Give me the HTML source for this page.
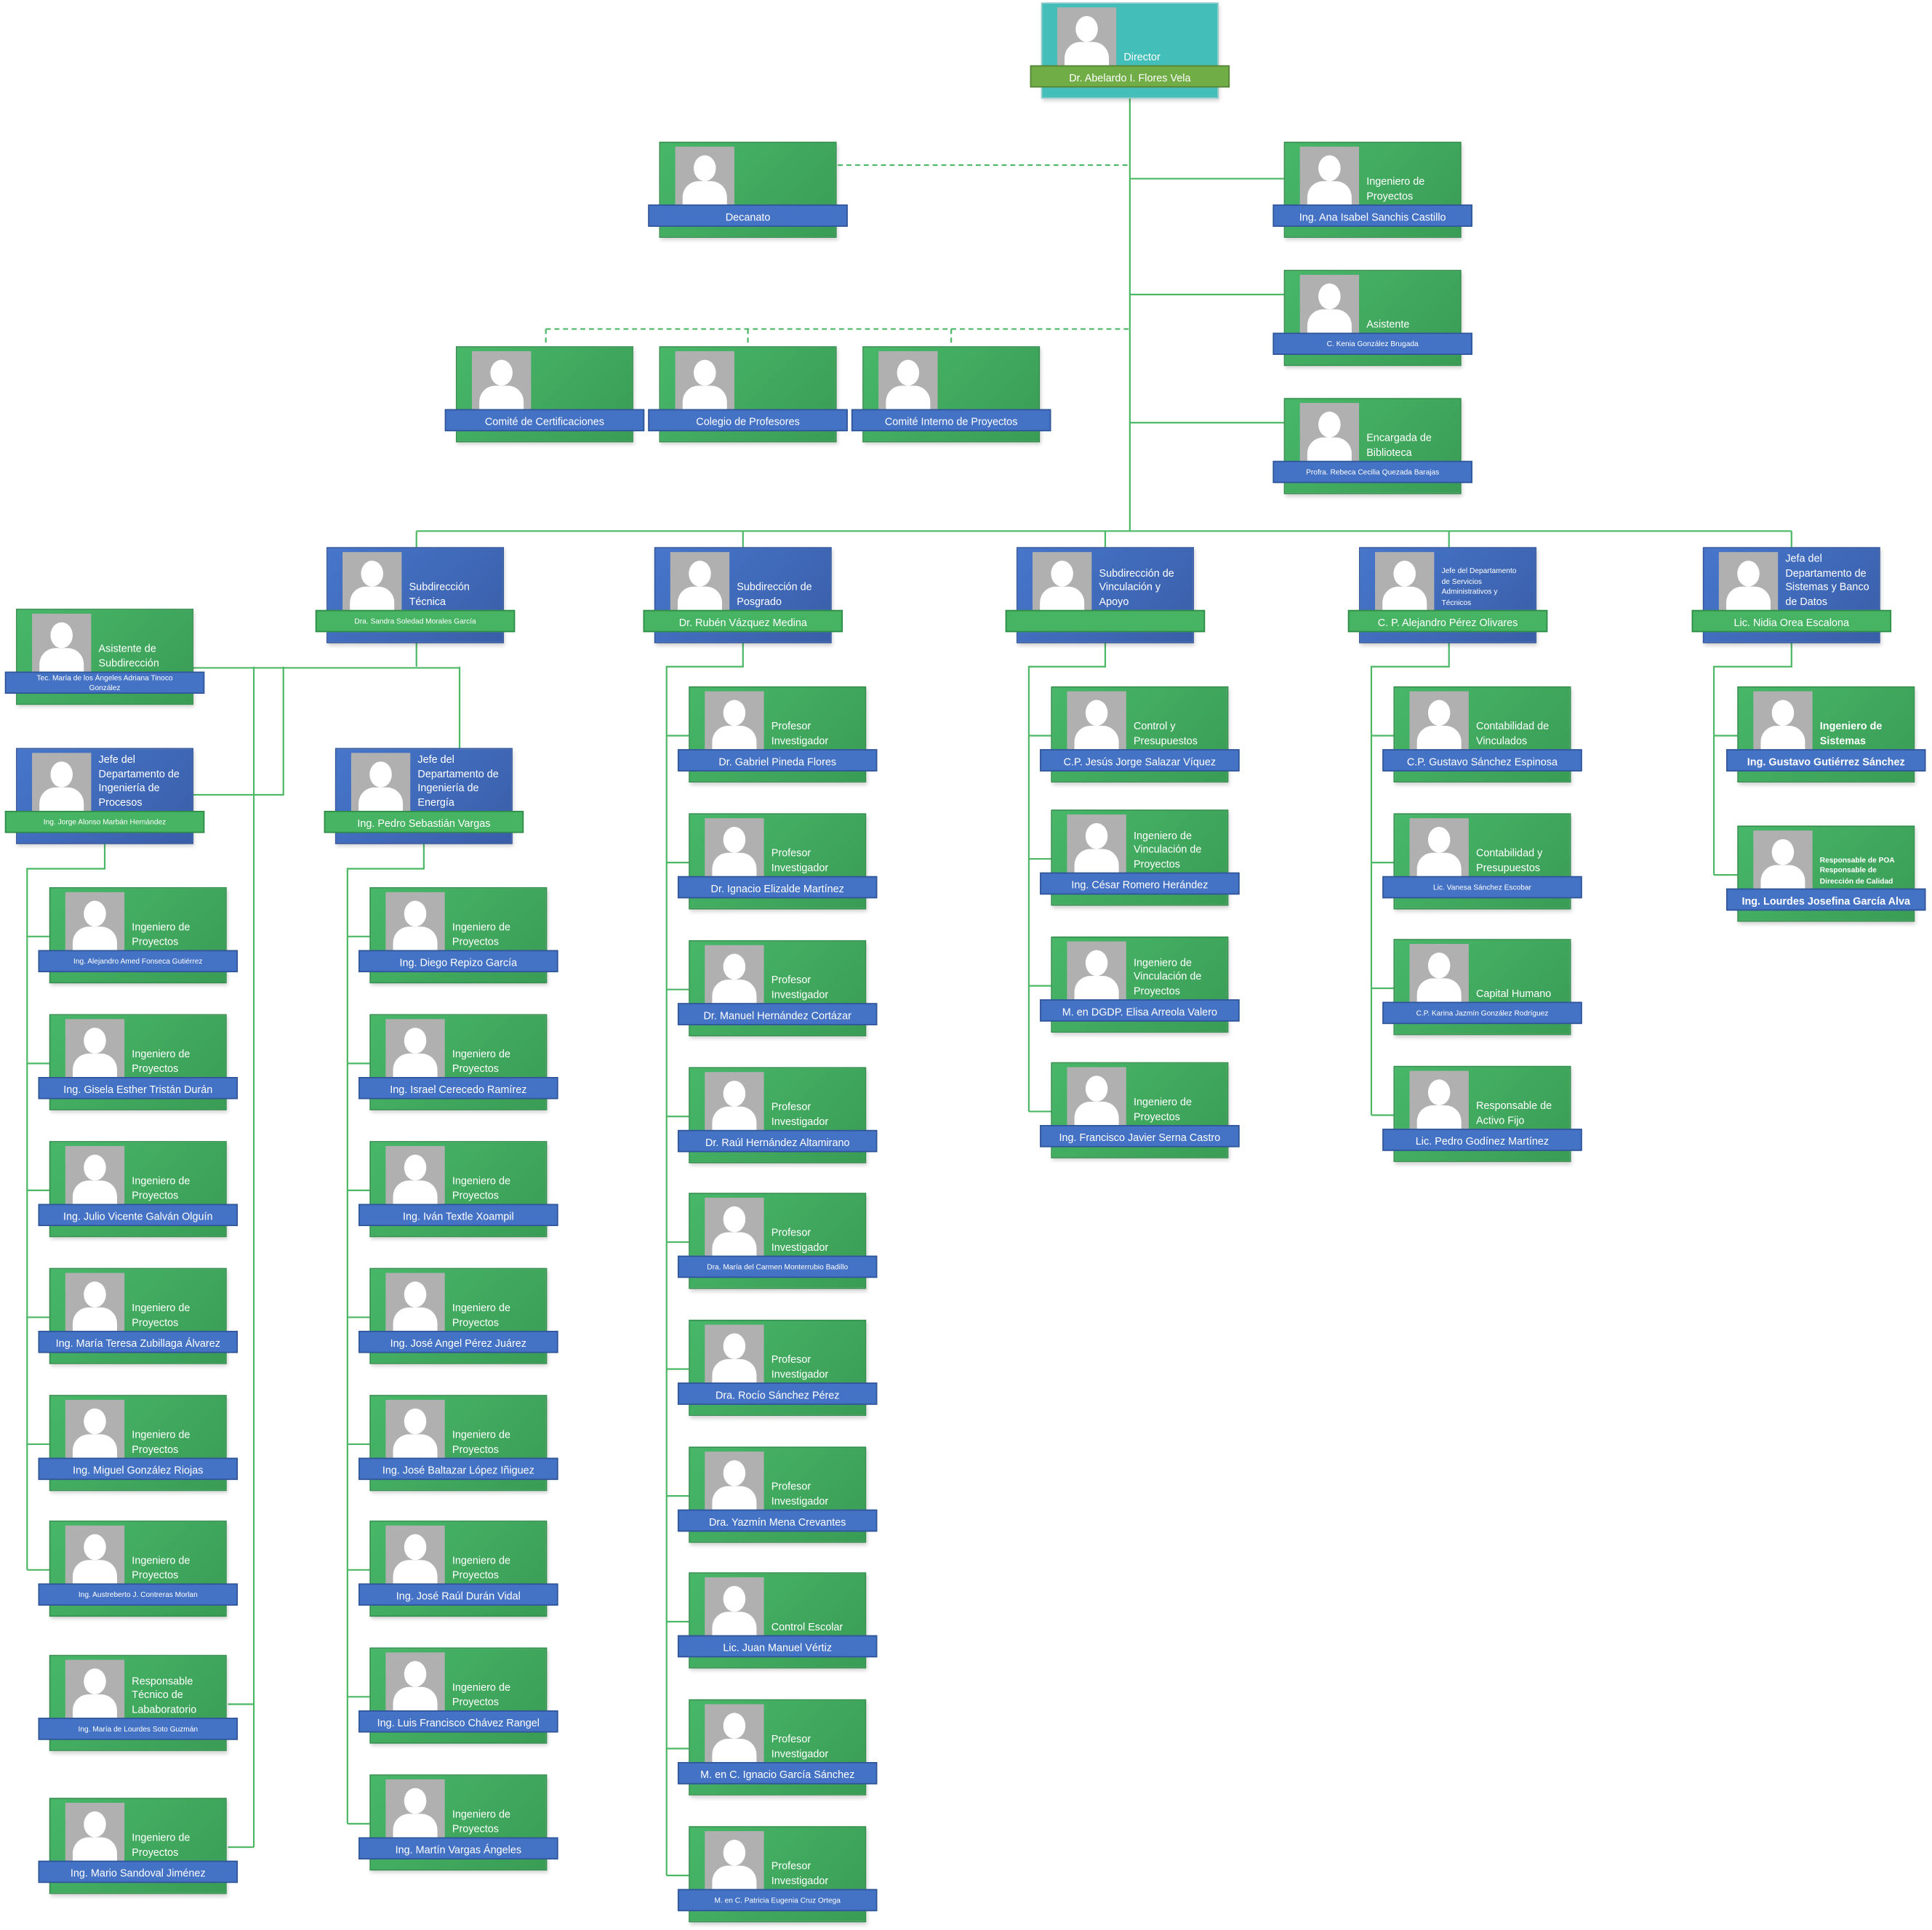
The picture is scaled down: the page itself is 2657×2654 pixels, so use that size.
<!DOCTYPE html>
<html><head><meta charset="utf-8"><style>
html,body{margin:0;padding:0;background:#fff;}
body{width:2657px;height:2654px;overflow:hidden;position:relative;font-family:"Liberation Sans",sans-serif;}
#w{position:absolute;left:0;top:0;width:1568px;height:1566px;transform:scale(1.6945);transform-origin:0 0;}
svg{position:absolute;left:0;top:0;}
.c{position:absolute;width:144px;height:78px;box-sizing:border-box;box-shadow:1px 2px 3px rgba(0,0,0,.18);}
.g{background:linear-gradient(135deg,#47b768,#3a9c55);border:1px solid #338f4c;}
.b{background:linear-gradient(135deg,#4676cb,#3a5ea8);border:1px solid #34589e;}
.d{background:#43beb8;border:1px solid #9cc;}
.c i{position:absolute;left:12px;top:3px;width:48px;height:48px;background:#b0b0b0;overflow:hidden;}
.c i:before{content:"";position:absolute;left:15px;top:7px;width:18px;height:21px;border-radius:50%;background:#fff;}
.c i:after{content:"";position:absolute;left:6px;top:28px;width:36px;height:26px;border-radius:13px 13px 0 0;background:#fff;}
.t{position:absolute;left:66px;bottom:27px;width:76px;color:#fff;font-size:8.5px;line-height:11.5px;}
.t.s{font-size:6px;line-height:8.5px;}
.t.bd{font-weight:bold;}
.bn{position:absolute;left:-10px;top:50px;width:162px;height:18px;line-height:18px;text-align:center;color:#fff;font-size:8.5px;font-weight:normal;box-sizing:border-box;white-space:nowrap;overflow:hidden;}
.bn.sm{font-size:6px;}
.bn.two{font-size:6px;line-height:8px;white-space:normal;padding-top:1px;}
.bn.bd{font-weight:bold;}
.bb{background:#4472c4;border:1px solid #2f5597;}
.bg{background:#47b464;border:1px solid #2e8b47;}
.bv{background:#70ad47;border:1px solid #548235;}
</style></head><body><div id="w">
<svg width="1568" height="1566" fill="none" stroke="#4cb866" stroke-width="1.3">
<path d="M917 78V431M338 431H1454M338 431V444M603 431V444M897 431V444M1176 431V444M1454 431V444"/>
<path d="M917 145H1042M917 239H1042M917 343H1042"/>
<path d="M680 134H917M443 267H917M443 267V281M607 267V281M772 267V281" stroke-dasharray="4 3"/>
<path d="M338 522V541M157 542H373M373 541V607M206 541V1499M206 1383H185M206 1499H185M230 541V645H157"/>
<path d="M85 685V705H22V1274M22 760H40M22 863H40M22 966H40M22 1069H40M22 1172H40M22 1274H40"/>
<path d="M344 685V705H282V1480M282 760H300M282 863H300M282 966H300M282 1069H300M282 1172H300M282 1274H300M282 1377H300M282 1480H300"/>
<path d="M603 522V541H541V1522M541 597H559M541 700H559M541 803H559M541 906H559M541 1008H559M541 1111H559M541 1214H559M541 1316H559M541 1419H559M541 1522H559"/>
<path d="M897 522V541H835V902M835 597H853M835 697H853M835 800H853M835 902H853"/>
<path d="M1176 522V541H1113V905M1113 597H1131M1113 700H1131M1113 802H1131M1113 905H1131"/>
<path d="M1454 522V541H1391V710M1391 597H1410M1391 710H1410"/>
</svg>

<div class="c d" style="left:845px;top:2px"><i></i><span class="t">Director</span><b class="bn bv">Dr. Abelardo I. Flores Vela</b></div>
<div class="c g" style="left:535px;top:115px"><i></i><b class="bn bb">Decanato</b></div>
<div class="c g" style="left:1042px;top:115px"><i></i><span class="t">Ingeniero de<br>Proyectos</span><b class="bn bb">Ing. Ana Isabel Sanchis Castillo</b></div>
<div class="c g" style="left:1042px;top:219px"><i></i><span class="t">Asistente</span><b class="bn bb sm">C. Kenia González Brugada</b></div>
<div class="c g" style="left:1042px;top:323px"><i></i><span class="t">Encargada de<br>Biblioteca</span><b class="bn bb sm">Profra. Rebeca Cecilia Quezada Barajas</b></div>
<div class="c g" style="left:370px;top:281px"><i></i><b class="bn bb">Comité de Certificaciones</b></div>
<div class="c g" style="left:535px;top:281px"><i></i><b class="bn bb">Colegio de Profesores</b></div>
<div class="c g" style="left:700px;top:281px"><i></i><b class="bn bb">Comité Interno de Proyectos</b></div>

<div class="c b" style="left:265px;top:444px"><i></i><span class="t">Subdirección<br>Técnica</span><b class="bn bg sm">Dra. Sandra Soledad Morales García</b></div>
<div class="c b" style="left:531px;top:444px"><i></i><span class="t">Subdirección de<br>Posgrado</span><b class="bn bg">Dr. Rubén Vázquez Medina</b></div>
<div class="c b" style="left:825px;top:444px"><i></i><span class="t">Subdirección de<br>Vinculación y<br>Apoyo</span><b class="bn bg"></b></div>
<div class="c b" style="left:1103px;top:444px"><i></i><span class="t s">Jefe del Departamento<br>de Servicios<br>Administrativos y<br>Técnicos</span><b class="bn bg">C. P. Alejandro Pérez Olivares</b></div>
<div class="c b" style="left:1382px;top:444px"><i></i><span class="t">Jefa del<br>Departamento de<br>Sistemas y Banco<br>de Datos</span><b class="bn bg">Lic. Nidia Orea Escalona</b></div>

<div class="c g" style="left:13px;top:494px"><i></i><span class="t">Asistente de<br>Subdirección</span><b class="bn bb two">Tec. María de los Ángeles Adriana Tinoco<br>González</b></div>
<div class="c b" style="left:13px;top:607px"><i></i><span class="t">Jefe del<br>Departamento de<br>Ingeniería de<br>Procesos</span><b class="bn bg sm">Ing. Jorge Alonso Marbán Hernández</b></div>
<div class="c b" style="left:272px;top:607px"><i></i><span class="t">Jefe del<br>Departamento de<br>Ingeniería de<br>Energía</span><b class="bn bg">Ing. Pedro Sebastián Vargas</b></div>

<div class="c g" style="left:40px;top:720px"><i></i><span class="t">Ingeniero de<br>Proyectos</span><b class="bn bb sm">Ing. Alejandro Amed Fonseca Gutiérrez</b></div>
<div class="c g" style="left:40px;top:823px"><i></i><span class="t">Ingeniero de<br>Proyectos</span><b class="bn bb">Ing. Gisela Esther Tristán Durán</b></div>
<div class="c g" style="left:40px;top:926px"><i></i><span class="t">Ingeniero de<br>Proyectos</span><b class="bn bb">Ing. Julio Vicente Galván Olguín</b></div>
<div class="c g" style="left:40px;top:1029px"><i></i><span class="t">Ingeniero de<br>Proyectos</span><b class="bn bb">Ing. María Teresa Zubillaga Álvarez</b></div>
<div class="c g" style="left:40px;top:1132px"><i></i><span class="t">Ingeniero de<br>Proyectos</span><b class="bn bb">Ing. Miguel González Riojas</b></div>
<div class="c g" style="left:40px;top:1234px"><i></i><span class="t">Ingeniero de<br>Proyectos</span><b class="bn bb sm">Ing. Austreberto J. Contreras Morlan</b></div>
<div class="c g" style="left:40px;top:1343px"><i></i><span class="t">Responsable<br>Técnico de<br>Lababoratorio</span><b class="bn bb sm">Ing. María de Lourdes Soto Guzmán</b></div>
<div class="c g" style="left:40px;top:1459px"><i></i><span class="t">Ingeniero de<br>Proyectos</span><b class="bn bb">Ing. Mario Sandoval Jiménez</b></div>

<div class="c g" style="left:300px;top:720px"><i></i><span class="t">Ingeniero de<br>Proyectos</span><b class="bn bb">Ing. Diego Repizo García</b></div>
<div class="c g" style="left:300px;top:823px"><i></i><span class="t">Ingeniero de<br>Proyectos</span><b class="bn bb">Ing. Israel Cerecedo Ramírez</b></div>
<div class="c g" style="left:300px;top:926px"><i></i><span class="t">Ingeniero de<br>Proyectos</span><b class="bn bb">Ing. Iván Textle Xoampil</b></div>
<div class="c g" style="left:300px;top:1029px"><i></i><span class="t">Ingeniero de<br>Proyectos</span><b class="bn bb">Ing. José Angel Pérez Juárez</b></div>
<div class="c g" style="left:300px;top:1132px"><i></i><span class="t">Ingeniero de<br>Proyectos</span><b class="bn bb">Ing. José Baltazar López Iñiguez</b></div>
<div class="c g" style="left:300px;top:1234px"><i></i><span class="t">Ingeniero de<br>Proyectos</span><b class="bn bb">Ing. José Raúl Durán Vidal</b></div>
<div class="c g" style="left:300px;top:1337px"><i></i><span class="t">Ingeniero de<br>Proyectos</span><b class="bn bb">Ing. Luis Francisco Chávez Rangel</b></div>
<div class="c g" style="left:300px;top:1440px"><i></i><span class="t">Ingeniero de<br>Proyectos</span><b class="bn bb">Ing. Martín Vargas Ángeles</b></div>

<div class="c g" style="left:559px;top:557px"><i></i><span class="t">Profesor<br>Investigador</span><b class="bn bb">Dr. Gabriel Pineda Flores</b></div>
<div class="c g" style="left:559px;top:660px"><i></i><span class="t">Profesor<br>Investigador</span><b class="bn bb">Dr. Ignacio Elizalde Martínez</b></div>
<div class="c g" style="left:559px;top:763px"><i></i><span class="t">Profesor<br>Investigador</span><b class="bn bb">Dr. Manuel Hernández Cortázar</b></div>
<div class="c g" style="left:559px;top:866px"><i></i><span class="t">Profesor<br>Investigador</span><b class="bn bb">Dr. Raúl Hernández Altamirano</b></div>
<div class="c g" style="left:559px;top:968px"><i></i><span class="t">Profesor<br>Investigador</span><b class="bn bb sm">Dra. María del Carmen Monterrubio Badillo</b></div>
<div class="c g" style="left:559px;top:1071px"><i></i><span class="t">Profesor<br>Investigador</span><b class="bn bb">Dra. Rocío Sánchez Pérez</b></div>
<div class="c g" style="left:559px;top:1174px"><i></i><span class="t">Profesor<br>Investigador</span><b class="bn bb">Dra. Yazmín Mena Crevantes</b></div>
<div class="c g" style="left:559px;top:1276px"><i></i><span class="t">Control Escolar</span><b class="bn bb">Lic. Juan Manuel Vértiz</b></div>
<div class="c g" style="left:559px;top:1379px"><i></i><span class="t">Profesor<br>Investigador</span><b class="bn bb">M. en C. Ignacio García Sánchez</b></div>
<div class="c g" style="left:559px;top:1482px"><i></i><span class="t">Profesor<br>Investigador</span><b class="bn bb sm">M. en C. Patricia Eugenia Cruz Ortega</b></div>

<div class="c g" style="left:853px;top:557px"><i></i><span class="t">Control y<br>Presupuestos</span><b class="bn bb">C.P. Jesús Jorge Salazar Víquez</b></div>
<div class="c g" style="left:853px;top:657px"><i></i><span class="t">Ingeniero de<br>Vinculación de<br>Proyectos</span><b class="bn bb">Ing. César Romero Herández</b></div>
<div class="c g" style="left:853px;top:760px"><i></i><span class="t">Ingeniero de<br>Vinculación de<br>Proyectos</span><b class="bn bb">M. en DGDP. Elisa Arreola Valero</b></div>
<div class="c g" style="left:853px;top:862px"><i></i><span class="t">Ingeniero de<br>Proyectos</span><b class="bn bb">Ing. Francisco Javier Serna Castro</b></div>

<div class="c g" style="left:1131px;top:557px"><i></i><span class="t">Contabilidad de<br>Vinculados</span><b class="bn bb">C.P. Gustavo Sánchez Espinosa</b></div>
<div class="c g" style="left:1131px;top:660px"><i></i><span class="t">Contabilidad y<br>Presupuestos</span><b class="bn bb sm">Lic. Vanesa Sánchez Escobar</b></div>
<div class="c g" style="left:1131px;top:762px"><i></i><span class="t">Capital Humano</span><b class="bn bb sm">C.P. Karina Jazmín González Rodríguez</b></div>
<div class="c g" style="left:1131px;top:865px"><i></i><span class="t">Responsable de<br>Activo Fijo</span><b class="bn bb">Lic. Pedro Godínez Martínez</b></div>

<div class="c g" style="left:1410px;top:557px"><i></i><span class="t bd">Ingeniero de<br>Sistemas</span><b class="bn bb bd">Ing. Gustavo Gutiérrez Sánchez</b></div>
<div class="c g" style="left:1410px;top:670px"><i></i><span class="t s bd">Responsable de POA<br>Responsable de<br>Dirección de Calidad</span><b class="bn bb bd">Ing. Lourdes Josefina García Alva</b></div>
</div></body></html>
